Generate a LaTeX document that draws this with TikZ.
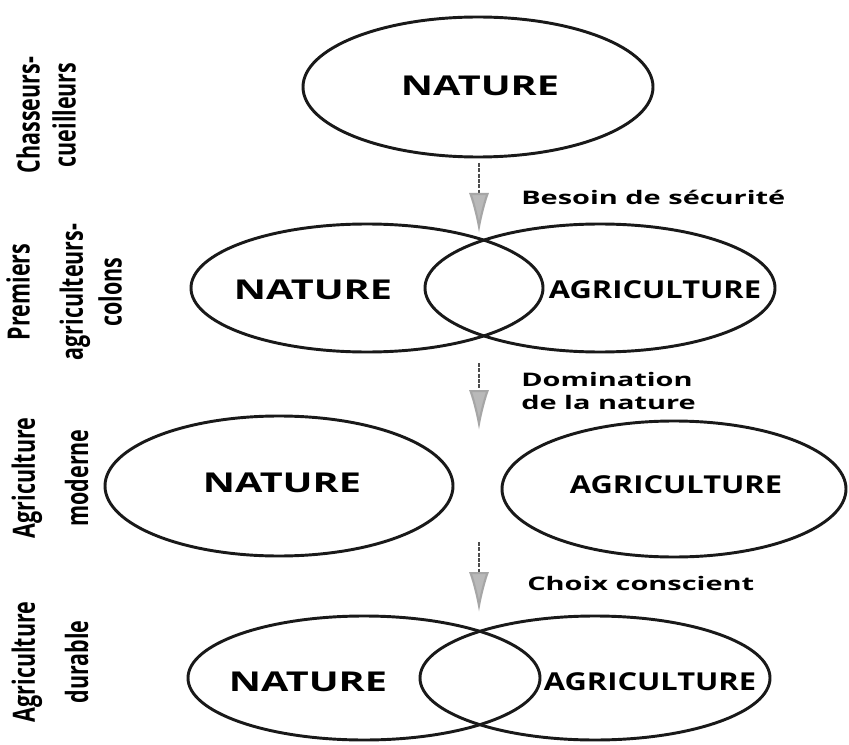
\documentclass[tikz,border=0pt]{standalone}
\usepackage{fontspec}
\usetikzlibrary{shapes.geometric,arrows.meta}
\newfontfamily\natfont[FakeStretch=1.45]{Open Sans}
\newfontfamily\agrfont[FakeStretch=1.25]{Open Sans}
\newfontfamily\lblfont[FakeStretch=1.55]{Open Sans}
\newfontfamily\sidefont[FakeStretch=0.7]{Open Sans}
\begin{document}
\begin{tikzpicture}[x=0.75pt,y=-0.75pt,
  ell/.style={draw=black!90, line width=2.2pt, ellipse, inner sep=0pt, outer sep=0pt},
  natl/.style={font=\natfont\bfseries\fontsize{20.5}{21}\selectfont, inner sep=0pt},
  agrl/.style={font=\agrfont\bfseries\fontsize{18.5}{20}\selectfont, inner sep=0pt},
  lbl/.style={font=\lblfont\bfseries\fontsize{14}{17.5}\selectfont, anchor=west, align=left, inner sep=0pt},
  side/.style={font=\sidefont\bfseries\fontsize{23}{40}\selectfont, rotate=90, align=center, inner sep=0pt},
  sidetight/.style={side, font=\sidefont\bfseries\fontsize{23}{27}\selectfont},
  arr/.style={draw=black!70, line width=1.6pt, dash pattern=on 3pt off 1pt,
    -{Latex[length=30pt,width=15pt,fill=gray!55,color=gray!70]}}
]
\useasboundingbox (0,0) rectangle (849,745);
\fill[white] (0,0) rectangle (849,745);

% row 1
\node[ell, minimum width=262.5pt, minimum height=105pt] (e1) at (478,87) {};
\node[natl] (t1) at (480,86) {NATURE};

% row 2
\node[ell, minimum width=264pt, minimum height=96pt] (e2l) at (367,288) {};
\node[ell, minimum width=262.5pt, minimum height=96pt] (e2r) at (600,288) {};
\node[natl] (t2l) at (313,290) {NATURE};
\node[agrl] (t2r) at (655,290) {AGRICULTURE};

% row 3
\node[ell, minimum width=261pt, minimum height=105pt] (e3l) at (279,486) {};
\node[ell, minimum width=258pt, minimum height=102pt] (e3r) at (674,489) {};
\node[natl] (t3l) at (282,483) {NATURE};
\node[agrl] (t3r) at (676,485) {AGRICULTURE};

% row 4
\node[ell, minimum width=264pt, minimum height=93pt] (e4l) at (364,678) {};
\node[ell, minimum width=262.5pt, minimum height=93pt] (e4r) at (595,678) {};
\node[natl] (t4l) at (308,682) {NATURE};
\node[agrl] (t4r) at (650,682) {AGRICULTURE};

% arrows
\coordinate (a1s) at (479,163);
\coordinate (a1e) at (479,233);
\coordinate (a2s) at (479,363);
\coordinate (a2e) at (479,430);
\coordinate (a3s) at (479,542);
\coordinate (a3e) at (479,612);
\draw[arr] (a1s) -- (a1e);
\draw[arr] (a2s) -- (a2e);
\draw[arr] (a3s) -- (a3e);

% arrow labels
\node[lbl] (l1) at (521,197) {Besoin de sécurité};
\node[lbl] (l2) at (521,391) {Domination\\de la nature};
\node[lbl] (l3) at (527,583) {Choix conscient};

% side labels
\node[sidetight] (s1) at (46,115) {Chasseurs-\\cueilleurs};
\node[side] (s2) at (64,292) {Premiers\\agriculteurs-\\[-11pt]colons};
\node[side] (s3) at (50,478) {Agriculture\\moderne};
\node[side] (s4) at (50,662) {Agriculture\\durable};
\end{tikzpicture}
\end{document}
